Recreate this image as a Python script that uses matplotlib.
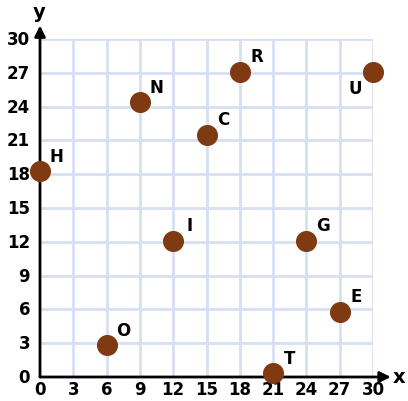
import matplotlib.pyplot as plt

# точки на координатній площині
names = ["H", "O", "N", "I", "C", "R", "T", "G", "E", "U"]
xs = [0, 6, 9, 12, 15, 18, 21, 24, 27, 30]
ys = [18.3, 2.8, 24.4, 12.1, 21.5, 27.1, 0.35, 12.1, 5.8, 27.1]

ticks = [0, 3, 6, 9, 12, 15, 18, 21, 24, 27, 30]

fig = plt.figure(figsize=(4.08, 4.02), dpi=100)
ax = fig.add_axes([40 / 408, 24 / 402, 333 / 408, 338 / 402])
ax.set_xlim(0, 30)
ax.set_ylim(0, 30)

# сітка
for t in ticks[1:]:
    ax.axvline(t, color="#d6dff2", lw=2, zorder=1)
    ax.axhline(t, color="#d6dff2", lw=2, zorder=1)

for s in ax.spines.values():
    s.set_visible(False)
ax.set_xticks([])
ax.set_yticks([])

# осі зі стрілками
ax.annotate("", xy=(31.6, 0), xytext=(0, 0), annotation_clip=False,
            arrowprops=dict(arrowstyle="-|>", color="black", lw=2,
                            mutation_scale=16, shrinkA=0, shrinkB=0))
ax.annotate("", xy=(0, 31.2), xytext=(0, 0), annotation_clip=False,
            arrowprops=dict(arrowstyle="-|>", color="black", lw=2,
                            mutation_scale=16, shrinkA=0, shrinkB=0))
ax.text(32.3, 0, "x", fontsize=14, fontweight="bold", ha="center", va="center",
        clip_on=False)
ax.text(-0.1, 32.4, "y", fontsize=14, fontweight="bold",
        ha="center", va="center", clip_on=False)

for t in ticks:
    ax.text(t, -0.25, str(t), fontsize=12, fontweight="bold",
            ha="center", va="top", clip_on=False)
    ax.text(-0.9, t, str(t), fontsize=12, fontweight="bold",
            ha="right", va="center", clip_on=False)

ax.scatter(xs, ys, s=200, color="#7f3a12", zorder=5, clip_on=False)

for n, x, y in zip(names, xs, ys):
    if n == "U":
        off = (-13, -12)
    else:
        off = (12, 11)
    ax.annotate(n, (x, y), xytext=off, textcoords="offset points",
                fontsize=12, fontweight="bold", ha="center", va="center",
                annotation_clip=False)

fig.savefig("out.png", dpi=100)
